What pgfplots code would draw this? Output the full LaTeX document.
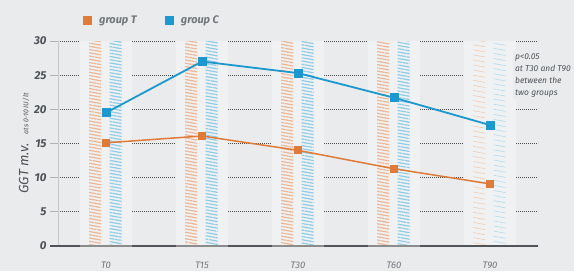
\documentclass[border=0pt]{standalone}
\usepackage{fontspec}
\setmainfont{Fira Sans}
\usepackage{pgfplots}
\pgfplotsset{compat=1.18}
\usetikzlibrary{patterns.meta}
\definecolor{bg}{HTML}{E9EBED}
\definecolor{panel}{HTML}{F0F1F2}
\definecolor{cT}{HTML}{E07A38}
\definecolor{cC}{HTML}{1B98CF}
\definecolor{txt}{HTML}{4E5257}
\definecolor{lt}{HTML}{73777B}
\definecolor{dk}{HTML}{505458}
\begin{document}
\begin{tikzpicture}[x=1bp,y=1bp]
\fill[bg] (0,0) rectangle (574,271);
\begin{axis}[
  at={(58bp,25bp)}, anchor=south west,
  scale only axis, width=480bp, height=205bp,
  xmin=-0.5, xmax=4.5, ymin=0, ymax=30,
  clip=false,
  axis x line*=bottom, axis y line*=left,
  x axis line style={draw=none},
  y axis line style={-, draw=black!22, line width=0.8bp},
  /pgf/number format/assume math mode=true,
  ytick={0,5,...,30},
  yticklabel style={font=\fontsize{11.5}{11.5}\selectfont\bfseries\itshape, text=txt},
  ytick style={draw=black!30, line width=0.8bp},
  major tick length=8bp,
  tick align=outside,
  xtick={0,1,2,3,4},
  xticklabels={T0,T15,T30,T60,T90},
  xticklabel style={font=\fontsize{9.5}{9.5}\selectfont\itshape, text=lt, yshift=-4bp},
  major x tick style={draw=none},
  extra x ticks={0.5,1.5,2.5,3.5},
  extra x tick labels={},
  extra x tick style={major tick length=6bp, tick style={draw=black!45, line width=0.8bp}},
  ymajorgrids,
  grid style={draw=black!70, line width=0.7bp, dash pattern=on 0.7bp off 1.3bp},
  ylabel={\fontsize{13.5}{13.5}\selectfont\itshape GGT m.v.\hspace{9bp}{\fontsize{7}{7}\selectfont ats 0-10 IU/lt}},
  ylabel style={text=txt, yshift=-2bp},
  legend columns=2,
  legend style={at={(rel axis cs:0.045,1)}, anchor=south west, yshift=12bp, draw=none, fill=none,
    font=\fontsize{11}{11}\selectfont\bfseries\itshape, text=lt,
    /tikz/every even column/.append style={column sep=26bp}},
]
% light panels behind each time point
\addplot[ybar, bar width=52bp, bar shift=0bp, fill=panel, draw=none, forget plot]
  coordinates {(0,30)(1,30)(2,30)(3,30)(4,30)};
% decorative hatched columns
\addplot[ybar, bar width=12bp, bar shift=-11bp, draw=none, forget plot,
  pattern={Lines[angle=-10, distance=3.2bp, line width=1.2bp]}, pattern color=cT!55]
  coordinates {(0,30)(1,30)(2,30)(3,30)};
\addplot[ybar, bar width=12bp, bar shift=9.5bp, draw=none, forget plot,
  pattern={Lines[angle=-10, distance=3.2bp, line width=1.2bp]}, pattern color=cC!50]
  coordinates {(0,30)(1,30)(2,30)(3,30)};
\addplot[ybar, bar width=12bp, bar shift=-11bp, draw=none, forget plot,
  pattern={Lines[angle=-10, distance=5bp, line width=0.6bp]}, pattern color=cT!40]
  coordinates {(4,30)};
\addplot[ybar, bar width=12bp, bar shift=9.5bp, draw=none, forget plot,
  pattern={Lines[angle=-10, distance=5bp, line width=0.6bp]}, pattern color=cC!35]
  coordinates {(4,30)};
% x axis line
\draw[line width=1.2bp, draw=black!45] ([xshift=-8bp]axis cs:-0.5,0) -- (axis cs:4.5,0);
\draw[line width=2.6bp, draw=dk] ([xshift=-8bp]axis cs:-0.5,0) -- (axis cs:-0.271,0);
\draw[line width=2.6bp, draw=dk] (axis cs:0.271,0) -- (axis cs:0.729,0);
\draw[line width=2.6bp, draw=dk] (axis cs:1.271,0) -- (axis cs:1.729,0);
\draw[line width=2.6bp, draw=dk] (axis cs:2.271,0) -- (axis cs:2.729,0);
\draw[line width=2.6bp, draw=dk] (axis cs:3.271,0) -- (axis cs:4.5,0);
% data
\addplot[cC, line width=1.8bp, mark=square*, mark size=3.6bp, forget plot]
  coordinates {(0,19.5)(1,27.0)(2,25.3)(3,21.7)(4,17.7)};
\addplot[cT, line width=1.5bp, mark=square*, mark size=3.2bp, forget plot]
  coordinates {(0,15.1)(1,16.1)(2,14.0)(3,11.3)(4,9.1)};
\addlegendimage{legend image code/.code={\fill[cT] (0bp,-4bp) rectangle (8bp,4bp); \path (14bp,0bp);}}
\addlegendentry{group T}
\addlegendimage{legend image code/.code={\fill[cC] (0bp,-4bp) rectangle (8bp,4bp); \path (14bp,0bp);}}
\addlegendentry{group C}
\node[anchor=north west, inner sep=2bp, fill=bg, text=txt, align=left,
  font=\fontsize{8.5}{11.5}\selectfont\itshape] at ([xshift=-2bp,yshift=1bp]rel axis cs:0.952,0.945)
  {p<0.05\\[0.5bp]at T30 and T90\\[0.5bp]between the\\[0.5bp]two groups};
\end{axis}
\pgfresetboundingbox
\useasboundingbox (0,0) rectangle (574,271);
\end{tikzpicture}
\end{document}
